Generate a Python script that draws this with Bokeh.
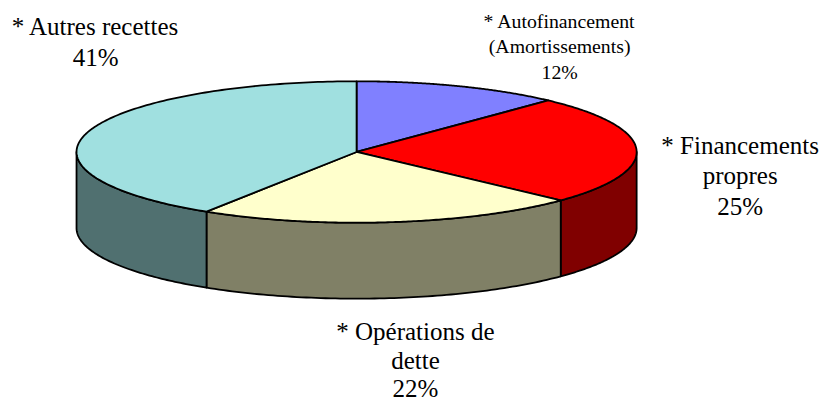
import numpy as np
from bokeh.plotting import figure
from bokeh.models import Range1d, ColumnDataSource
from bokeh.core.properties import value
from bokeh.embed import file_html
from bokeh.resources import INLINE

# ---- data ----
categories = ["* Autofinancement\n(Amortissements)", "* Financements\npropres",
              "* Opérations de\ndette", "* Autres recettes"]
shares = [12, 25, 22, 41]
top_colors = ["#8080FF", "#FF0000", "#FFFFCC", "#A0E0E0"]
side_colors = ["#404080", "#800000", "#808066", "#507070"]

# ---- layout (pixel geometry of the 3D pie, in reference pixel coordinates) ----
W, H = 823, 403
SY = H / 419.0
CX, CY = 363.0, 157.5
RX, RY = 285.5, 73.5
DEPTH = 79.0
label_x = [570, 754, 423, 97]
label_y = [28.5, 160, 353.5, 37]
label_px = [19.8, 25, 25, 25]
label_step = [26.5, 32, 30, 32]
BASELINE_FIX = 0.37

p = figure(width=W, height=H, output_backend="svg", toolbar_location=None,
           x_range=Range1d(0, 839), y_range=Range1d(419, 0),
           min_border=0, background_fill_color="white", border_fill_color="white")
p.axis.visible = False
p.grid.visible = False
p.outline_line_color = None


def rim(t, dy=0.0):
    r = np.radians(t)
    return CX + RX * np.cos(r), CY - RY * np.sin(r) + dy


total = float(sum(shares))
starts, ends = [], []
a = 90.0
for s in shares:
    starts.append(a)
    a -= 360.0 * s / total
    ends.append(a)

# side walls (front half only: angles in [-180, 0])
sx, sy, sc = [], [], []
for s0, s1, col in zip(starts, ends, side_colors):
    hi = min(s0, 0.0)
    lo = max(s1, -180.0)
    if hi <= lo:
        continue
    t = np.linspace(hi, lo, 80)
    x1, y1 = rim(t)
    x2, y2 = rim(t[::-1], DEPTH)
    sx.append(list(x1) + list(x2))
    sy.append(list(y1) + list(y2))
    sc.append(col)
p.patches(sx, sy, fill_color=sc, line_color="black", line_width=1.8, line_join="round")

# top faces
tx, ty = [], []
for s0, s1 in zip(starts, ends):
    t = np.linspace(s0, s1, 150)
    x1, y1 = rim(t)
    tx.append([CX] + list(x1))
    ty.append([CY] + list(y1))
p.patches(tx, ty, fill_color=top_colors, line_color="black", line_width=1.8, line_join="round")

# labels
rx_, ry_, ro, rt, rs = [], [], [], [], []
for cat, sh, lx, ly, px, st in zip(categories, shares, label_x, label_y, label_px, label_step):
    lines = cat.split("\n") + [f"{sh}%"]
    for i, ln in enumerate(lines):
        rx_.append(lx)
        ry_.append(ly)
        ro.append(i * st * SY - BASELINE_FIX * px)
        rt.append(ln)
        rs.append(f"{px}px")
src = ColumnDataSource(dict(x=rx_, y=ry_, yo=ro, text=rt, size=rs))
p.text(x="x", y="y", y_offset="yo", text="text", text_font_size="size", source=src,
       text_font=value("Liberation Serif"), text_align="center", text_baseline="alphabetic",
       text_color="black")

open("out.html", "w").write(file_html(p, INLINE))
